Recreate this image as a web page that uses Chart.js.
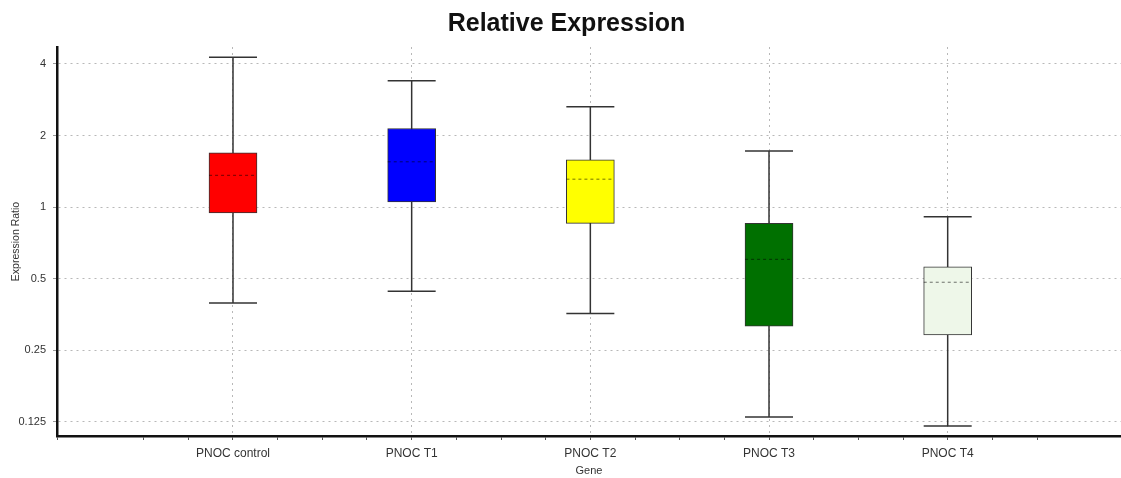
<!DOCTYPE html>
<html>
<head>
<meta charset="utf-8">
<script src="https://cdn.jsdelivr.net/npm/chart.js@4.4.0/dist/chart.umd.min.js"></script>
<style>
  html, body { margin: 0; padding: 0; background: #ffffff; }
  #wrap { width: 1121px; height: 478px; }
</style>
</head>
<body>
<div id="wrap"><canvas id="c" width="1121" height="478"></canvas></div>
<script>
// ---- data ----
const categories = ['PNOC control', 'PNOC T1', 'PNOC T2', 'PNOC T3', 'PNOC T4'];
const whiskerMax = [4.27, 3.40, 2.64, 1.72, 0.911];
const q3 = [1.69, 2.14, 1.58, 0.854, 0.561];
const median = [1.36, 1.55, 1.31, 0.603, 0.483];
const q1 = [0.944, 1.05, 0.854, 0.316, 0.290];
const whiskerMin = [0.395, 0.443, 0.357, 0.131, 0.120];
const boxColors = ['#ff0000', '#0000ff', '#ffff00', '#007000', '#eef7e9'];
const yTicks = [0.125, 0.25, 0.5, 1, 2, 4];
const yTickLabels = ['0.125', '0.25', '0.5', '1', '2', '4'];

Chart.defaults.font.family = "'Liberation Sans', Arial, sans-serif";
Chart.defaults.color = '#333';

const HALF = 0.134; // half box width in category units

const datasets = [];
// boxes
datasets.push({
  type: 'bar',
  data: categories.map((c, i) => ({ x: i, y: [q1[i], q3[i]] })),
  backgroundColor: boxColors,
  borderColor: '#333333',
  borderWidth: 1,
  borderSkipped: false,
  barThickness: 48,
  order: 1
});
// whiskers with caps
categories.forEach((c, i) => {
  datasets.push({
    type: 'line',
    data: [{ x: i, y: whiskerMin[i] }, { x: i, y: whiskerMax[i] }],
    borderColor: '#333333',
    borderWidth: 1.5,
    pointStyle: 'line',
    pointRadius: 24,
    pointHoverRadius: 24,
    pointBorderColor: '#333333',
    pointBorderWidth: 1.5,
    fill: false,
    order: 3
  });
});
// medians
categories.forEach((c, i) => {
  datasets.push({
    type: 'line',
    data: [{ x: i - HALF, y: median[i] }, { x: i + HALF, y: median[i] }],
    borderColor: 'rgba(0,0,0,0.55)',
    borderWidth: 1,
    borderDash: [3, 3],
    pointRadius: 0,
    fill: false,
    order: 0
  });
});

const isCat = v => Number.isInteger(v) && v >= 0 && v <= 4;

new Chart(document.getElementById('c'), {
  type: 'bar',
  data: { datasets },
  options: {
    responsive: false,
    animation: false,
    layout: { autoPadding: false, padding: { left: 12, right: 0, top: 0, bottom: 0 } },
    plugins: {
      legend: { display: false },
      tooltip: { enabled: false },
      title: {
        display: true,
        text: 'Relative Expression',
        color: '#111',
        font: { size: 25, weight: 'bold' },
        padding: { top: 9, bottom: 8 }
      }
    },
    scales: {
      x: {
        type: 'linear',
        offset: false,
        min: -0.985,
        max: 4.97,
        afterFit: s => { s.height = 42; s.paddingLeft = 0; s.paddingRight = 0; },
        ticks: {
          stepSize: 0.25,
          autoSkip: false,
          maxRotation: 0,
          padding: 6,
          color: '#333',
          font: { size: 12 },
          callback: v => isCat(v) ? categories[v] : ''
        },
        grid: {
          offset: false,
          color: ctx => (ctx.tick && isCat(ctx.tick.value)) ? '#b8b8b8' : 'rgba(0,0,0,0)',
          lineWidth: 1,
          tickLength: 4,
          tickColor: '#555',
          drawTicks: true
        },
        border: { display: true, color: '#111', width: 2.5, dash: [2, 4] },
        title: {
          display: true,
          text: 'Gene',
          color: '#333',
          font: { size: 11 },
          padding: { top: 0, bottom: 0 }
        }
      },
      y: {
        type: 'logarithmic',
        min: 0.109,
        max: 4.71,
        afterFit: s => { s.width = 45; },
        afterBuildTicks: s => { s.ticks = yTicks.map(v => ({ value: v })); },
        ticks: {
          autoSkip: false,
          padding: 7,
          color: '#333',
          font: { size: 11 },
          callback: v => { const k = yTicks.indexOf(v); return k >= 0 ? yTickLabels[k] : ''; }
        },
        grid: {
          color: '#b8b8b8',
          lineWidth: 1,
          tickLength: 4,
          tickColor: '#999',
          drawTicks: true
        },
        border: { display: true, color: '#111', width: 2.5, dash: [2, 4] },
        title: {
          display: true,
          text: 'Expression Ratio',
          color: '#333',
          font: { size: 10.5 },
          padding: { top: -2, bottom: 0 }
        }
      }
    }
  }
});
</script>
</body>
</html>
